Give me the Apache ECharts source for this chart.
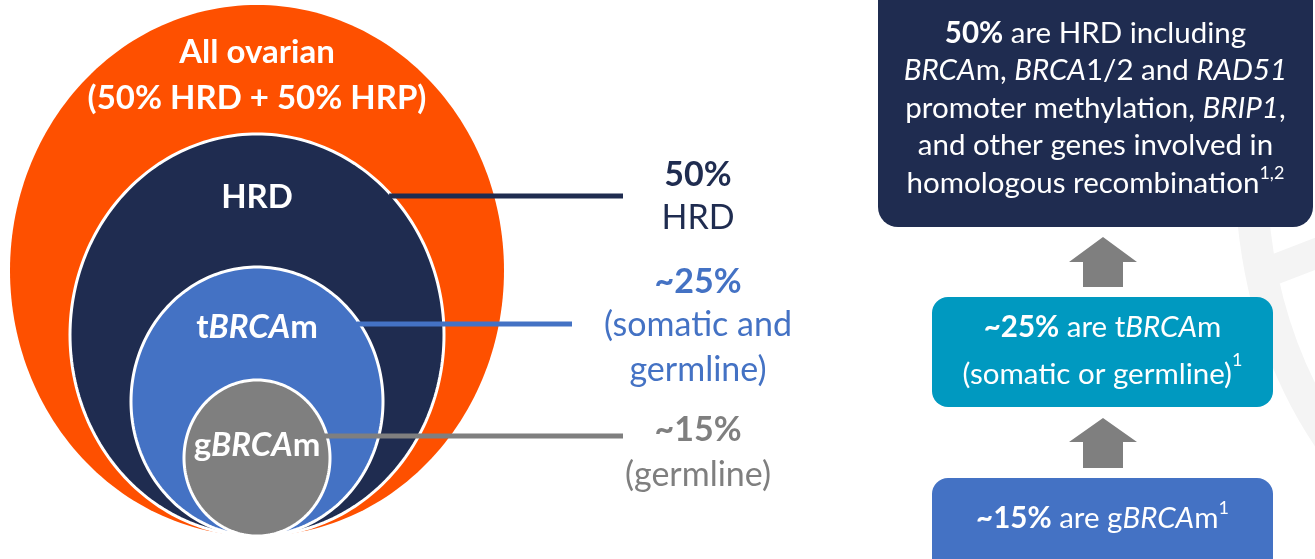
<!DOCTYPE html>
<html>
<head>
<meta charset="utf-8">
<script src="https://cdn.jsdelivr.net/npm/echarts@6/dist/echarts.min.js"></script>
<style>
html, body { margin: 0; padding: 0; background: #fff; }
#main { width: 1315px; height: 559px; }
</style>
</head>
<body>
<div id="main"></div>
<script>
// populations, nested from outer to inner
const groups = ['All ovarian', 'HRD', 'tBRCAm', 'gBRCAm'];
const shares = [100, 50, 25, 15];
// callout labels for the inner rings
const shareLabels = ['50%', '~25%', '~15%'];
const shareNotes = [['HRD'], ['(somatic and', 'germline)'], ['(germline)']];
// flow boxes on the right (bottom box -> top box)
const boxShares = ['~15%', '~25%', '50%'];

// ---- layout (axis units = canvas px) ----
const RING = { cx: 257, base: 536, rx: [247, 187, 126, 73], ry: [265.5, 201, 134.5, 78] };
const RING_LABEL_Y = [75, 197, 327, 445];
const CONNECT = { y: [196, 324, 436], endX: [623, 572, 623] };
const CALLOUT = { x: 698, y: [[175, 218], [282, 325, 370], [430, 475]] };
const BOXES = [
    { x0: 932, x1: 1273, y0: 478, y1: 580, cy: 518, r: 16 },
    { x0: 932, x1: 1273, y0: 297, y1: 407, cy: 351, r: 16 },
    { x0: 878, x1: 1313, y0: -30, y1: 227, cy: 108, r: 20 },
];
const ARROWS = [
    { x: 1103, tip: 418, neck: 442, end: 468 },
    { x: 1103, tip: 237, neck: 262, end: 287 },
];

const COLORS = ['#FE5000', '#1F2C50', '#4472C4', '#7F7F7F'];
const BOX_COLORS = ['#4472C4', '#0099C0', '#1F2C50'];
const FONT = 'Lato, "Open Sans", sans-serif';

const ringGeom = (i) => ({
    cx: RING.cx,
    cy: RING.base - RING.ry[i],
    rx: RING.rx[i],
    ry: RING.ry[i],
});

const chart = echarts.init(document.getElementById('main'));

const ringLabelText = [
    '{b|' + groups[0] + '}\n{b|(' + shares[1] + '% HRD + ' + (shares[0] - shares[1]) + '% HRP)}',
    '{b|' + groups[1] + '}',
    '{b|t}{bi|BRCA}{b|m}',
    '{b|g}{bi|BRCA}{b|m}',
];

const boxText = [
    '{b|' + boxShares[0] + '}{n| are g}{i|BRCA}{n|m}{sup|1}',
    '{b|' + boxShares[1] + '}{n| are t}{i|BRCA}{n|m}\n{n|(somatic or germline)}{sup|1}',
    '{b|' + boxShares[2] + '}{n| are HRD including}\n{i|BRCA}{n|m, }{i|BRCA}{n|1/2 and }{i|RAD51}\n'
        + '{n|promoter methylation, }{i|BRIP1}{n|,}\n{n|and other genes involved in}\n'
        + '{n|homologous recombination}{sup|1,2}',
];

const option = {
    animation: false,
    grid: { left: 0, right: 0, top: 0, bottom: 0 },
    xAxis: { type: 'value', min: 0, max: 1315, show: false },
    yAxis: { type: 'value', min: 0, max: 559, inverse: true, show: false },
    graphic: [
        // faint watermark in the background
        {
            type: 'bezierCurve', z: -10, silent: true,
            shape: { x1: 1252, y1: 205, cpx1: 1262, cpy1: 340, x2: 1330, y2: 440 },
            style: { fill: null, stroke: '#F4F4F4', lineWidth: 32 },
        },
        {
            type: 'line', z: -10, silent: true,
            shape: { x1: 1268, y1: 272, x2: 1330, y2: 248 },
            style: { stroke: '#F4F4F4', lineWidth: 30 },
        },
    ],
    series: [
        {
            name: 'rings',
            type: 'custom',
            z: 1,
            data: groups.map((name, i) => ({ name, value: [i, shares[i]] })),
            renderItem: (params, api) => {
                const i = api.value(0);
                const g = ringGeom(i);
                const pts = [];
                for (let k = 0; k < 240; k++) {
                    const t = (k / 240) * Math.PI * 2;
                    pts.push(api.coord([g.cx + g.rx * Math.cos(t), g.cy + g.ry * Math.sin(t)]));
                }
                return {
                    type: 'polygon',
                    shape: { points: pts },
                    style: { fill: COLORS[i], stroke: i ? '#fff' : null, lineWidth: 3 },
                };
            },
        },
        {
            name: 'connectors',
            type: 'custom',
            z: 2,
            data: shareLabels.map((s, i) => [i]),
            renderItem: (params, api) => {
                const i = api.value(0);
                const g = ringGeom(i + 1);
                const y = CONNECT.y[i];
                const dy = (y - g.cy) / g.ry;
                const x0 = g.cx + g.rx * Math.sqrt(1 - dy * dy) - 3;
                const p0 = api.coord([x0, y]);
                const p1 = api.coord([CONNECT.endX[i], y]);
                return {
                    type: 'line',
                    shape: { x1: p0[0], y1: p0[1], x2: p1[0], y2: p1[1] },
                    style: { stroke: COLORS[i + 1], lineWidth: 5 },
                };
            },
        },
        {
            name: 'ringLabels',
            type: 'custom',
            z: 3,
            data: groups.map((g, i) => [i]),
            renderItem: (params, api) => {
                const i = api.value(0);
                const p = api.coord([RING.cx, RING_LABEL_Y[i]]);
                return {
                    type: 'text',
                    x: p[0], y: p[1],
                    style: {
                        text: ringLabelText[i],
                        align: 'center', verticalAlign: 'middle',
                        rich: {
                            b: { fill: '#fff', fontFamily: FONT, fontWeight: 'bold', fontSize: 33, lineHeight: 46 },
                            bi: { fill: '#fff', fontFamily: FONT, fontWeight: 'bold', fontStyle: 'italic', fontSize: 33, lineHeight: 46 },
                        },
                    },
                };
            },
        },
        {
            name: 'callouts',
            type: 'custom',
            z: 3,
            data: shareLabels.map((s, i) => [i]),
            renderItem: (params, api) => {
                const i = api.value(0);
                const lines = [shareLabels[i]].concat(shareNotes[i]);
                const col = COLORS[i + 1];
                return {
                    type: 'group',
                    children: lines.map((t, k) => {
                        const p = api.coord([CALLOUT.x, CALLOUT.y[i][k]]);
                        return {
                            type: 'text',
                            x: p[0], y: p[1],
                            style: {
                                text: t,
                                fill: col,
                                fontFamily: FONT,
                                fontWeight: k === 0 ? 'bold' : 'normal',
                                fontSize: 34,
                                align: 'center', verticalAlign: 'middle',
                            },
                        };
                    }),
                };
            },
        },
        {
            name: 'arrows',
            type: 'custom',
            z: 2,
            data: ARROWS.map((a, i) => [i]),
            renderItem: (params, api) => {
                const a = ARROWS[api.value(0)];
                const pts = [
                    [a.x, a.tip], [a.x + 34, a.neck], [a.x + 20, a.neck], [a.x + 20, a.end],
                    [a.x - 20, a.end], [a.x - 20, a.neck], [a.x - 34, a.neck],
                ].map((q) => api.coord(q));
                return { type: 'polygon', shape: { points: pts }, style: { fill: '#7F7F7F' } };
            },
        },
        {
            name: 'boxes',
            type: 'custom',
            z: 2,
            data: boxShares.map((s, i) => [i]),
            renderItem: (params, api) => {
                const i = api.value(0);
                const b = BOXES[i];
                const tl = api.coord([b.x0, b.y0]);
                const br = api.coord([b.x1, b.y1]);
                const tc = api.coord([(b.x0 + b.x1) / 2, b.cy]);
                const fs = 29.5;
                const lh = i === 1 ? 47 : 37.5;
                return {
                    type: 'group',
                    children: [
                        {
                            type: 'rect',
                            shape: { x: tl[0], y: tl[1], width: br[0] - tl[0], height: br[1] - tl[1], r: b.r },
                            style: { fill: BOX_COLORS[i] },
                        },
                        {
                            type: 'text',
                            x: tc[0], y: tc[1],
                            style: {
                                text: boxText[i],
                                align: 'center', verticalAlign: 'middle',
                                rich: {
                                    n: { fill: '#fff', fontFamily: FONT, fontSize: fs, lineHeight: lh },
                                    b: { fill: '#fff', fontFamily: FONT, fontWeight: 'bold', fontSize: fs, lineHeight: lh },
                                    i: { fill: '#fff', fontFamily: FONT, fontStyle: 'italic', fontSize: fs, lineHeight: lh },
                                    sup: { fill: '#fff', fontFamily: FONT, fontSize: 18, lineHeight: i === 1 ? 36 : 30, verticalAlign: 'top' },
                                },
                            },
                        },
                    ],
                };
            },
        },
    ],
};

chart.setOption(option);
</script>
</body>
</html>
